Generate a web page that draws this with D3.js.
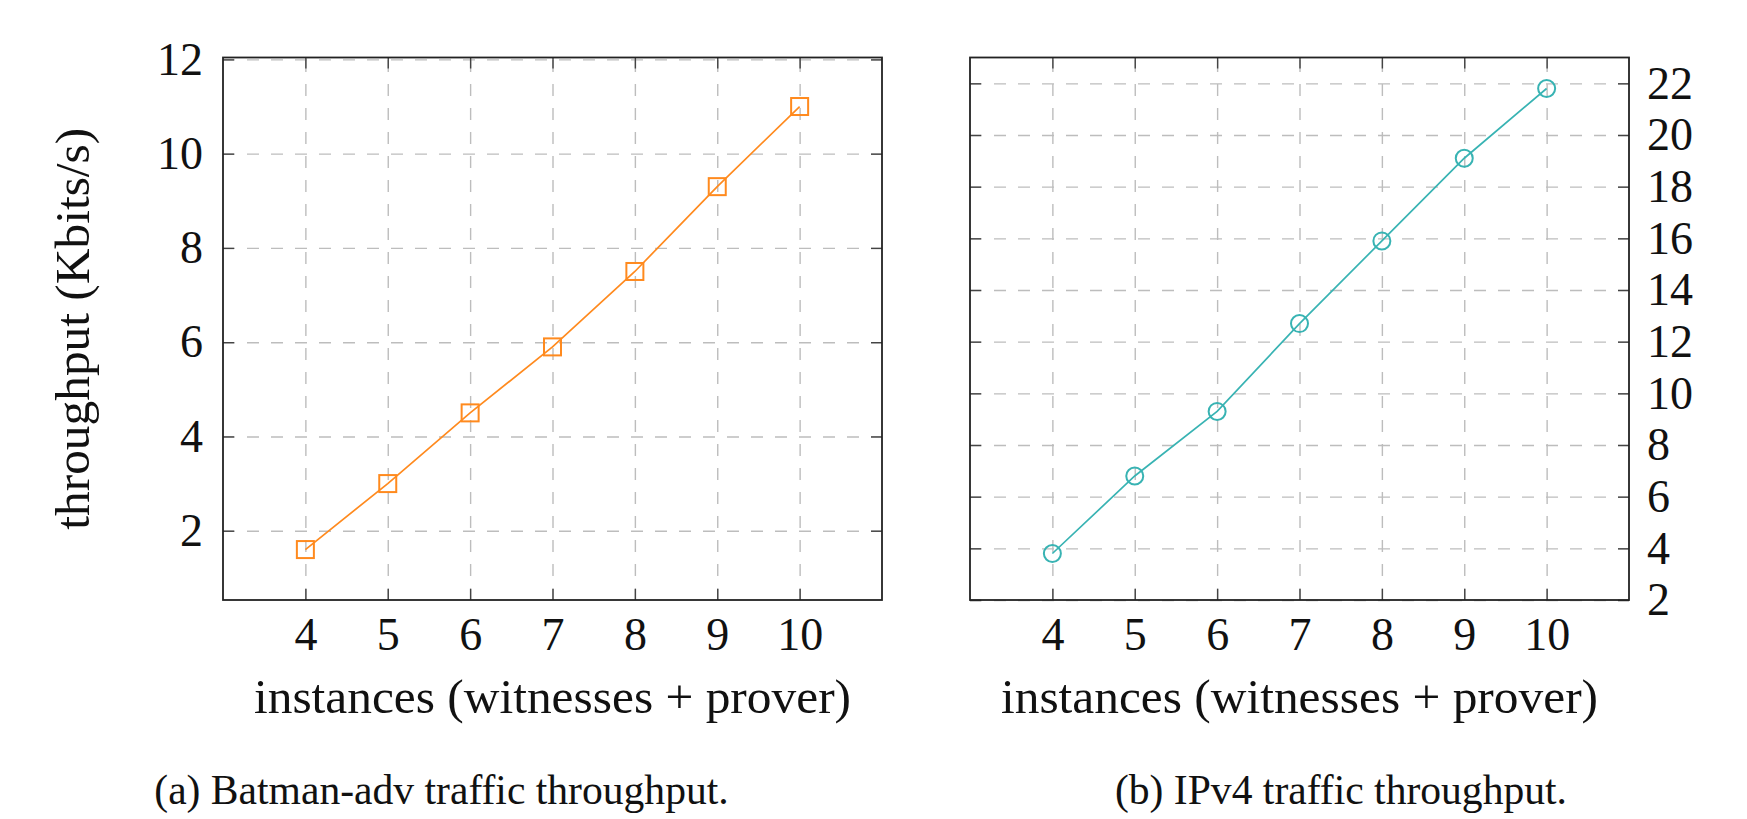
<!DOCTYPE html> <meta charset="utf-8" />
<style>
    body {
        margin: 0;
        background: #fff;
    }

    text {
        font-family: 'Liberation Serif', serif;
        fill: #111;
    }

    .grid line {
        stroke: #bdbdbd;
        stroke-width: 1.4;
        stroke-dasharray: 12, 12;
    }

    .grid path,
    .ticks path {
        display: none;
    }

    .ticks line {
        stroke: #444;
        stroke-width: 1.4;
    }

    .tick text {
        font-size: 46px;
    }

    .frame {
        fill: none;
        stroke: #222;
        stroke-width: 1.8;
    }

    .series {
        fill: none;
        stroke-width: 1.7;
    }

    .axis-label {
        font-size: 49.4px;
    }

    .caption {
        font-size: 41.6px;
    }
</style>

<svg width="1747" height="819"></svg>

<script src="https://d3js.org/d3.v7.min.js"></script>
<script>
    // x values shared by both panels
    const instances = [4, 5, 6, 7, 8, 9, 10];

    // (a) batman-adv throughput, Kbits/s
    const batmanThroughput = [1.6, 3.0, 4.5, 5.9, 7.5, 9.3, 11.0];
    const batmanTicks = [2, 4, 6, 8, 10, 12];

    // (b) IPv4 throughput, Kbits/s
    const ipv4Throughput = [3.8, 6.8, 9.3, 12.7, 15.9, 19.1, 21.8];
    const ipv4Ticks = [2, 4, 6, 8, 10, 12, 14, 16, 18, 20, 22];

    const xLabel = 'instances (witnesses + prover)';
    const yLabel = 'throughput (Kbits/s)';
    const captions = ['(a) Batman-adv traffic throughput.', '(b) IPv4 traffic throughput.'];

    const svg = d3.select('svg');

    const plotW = 659;
    const plotH = 542.5;
    const plotTop = 57.5;
    const tickLen = 11;

    function drawPanel(opts) {
        const { left, values, yDomain, yTicks, color, marker, labelSide } = opts;

        const x = d3.scaleLinear().domain([3, 11]).range([0, plotW]);
        const y = d3.scaleLinear().domain(yDomain).range([plotH, 0]);

        const g = svg.append('g').attr('transform', `translate(${left},${plotTop})`);

        // dashed grid
        g.append('g')
            .attr('class', 'grid')
            .attr('transform', `translate(0,${plotH})`)
            .call(d3.axisBottom(x).tickValues(instances).tickSize(-plotH).tickFormat(''));

        g.append('g')
            .attr('class', 'grid')
            .call(d3.axisLeft(y).tickValues(yTicks).tickSize(-plotW).tickFormat(''));

        // inner tick marks on all four sides
        g.append('g')
            .attr('class', 'ticks')
            .attr('transform', `translate(0,${plotH})`)
            .call(d3.axisBottom(x).tickValues(instances).tickSize(-tickLen).tickPadding(17));

        g.append('g')
            .attr('class', 'ticks')
            .call(d3.axisTop(x).tickValues(instances).tickSize(-tickLen).tickFormat(''));

        const leftAxis = d3.axisLeft(y).tickValues(yTicks).tickSize(-tickLen).tickPadding(20);
        const rightAxis = d3.axisRight(y).tickValues(yTicks).tickSize(-tickLen).tickPadding(18);
        if (labelSide === 'left') rightAxis.tickFormat('');
        else leftAxis.tickFormat('');

        g.append('g').attr('class', 'ticks').call(leftAxis);
        g.append('g')
            .attr('class', 'ticks')
            .attr('transform', `translate(${plotW},0)`)
            .call(rightAxis);

        g.selectAll('.tick text').attr('fill', '#111').style('font-family', "'Liberation Serif', serif");

        g.append('rect')
            .attr('class', 'frame')
            .attr('width', plotW)
            .attr('height', plotH);

        const pts = instances.map((d, i) => [x(d), y(values[i])]);

        g.append('path')
            .attr('class', 'series')
            .attr('stroke', color)
            .attr('d', d3.line()(pts));

        const marks = g.selectAll('.mark').data(pts).enter();
        if (marker === 'square') {
            marks.append('rect')
                .attr('x', d => d[0] - 8.5)
                .attr('y', d => d[1] - 8.5)
                .attr('width', 17)
                .attr('height', 17)
                .attr('fill', 'none')
                .attr('stroke', color)
                .attr('stroke-width', 2);
        } else {
            marks.append('circle')
                .attr('cx', d => d[0])
                .attr('cy', d => d[1])
                .attr('r', 8.5)
                .attr('fill', 'none')
                .attr('stroke', color)
                .attr('stroke-width', 2);
        }

        g.append('text')
            .attr('class', 'axis-label')
            .attr('x', plotW / 2)
            .attr('y', 713 - plotTop)
            .attr('text-anchor', 'middle')
            .text(xLabel);

        return g;
    }

    drawPanel({
        left: 223,
        values: batmanThroughput,
        yDomain: [0.53, 12.04],
        yTicks: batmanTicks,
        color: '#ff8a1e',
        marker: 'square',
        labelSide: 'left',
    });

    drawPanel({
        left: 970,
        values: ipv4Throughput,
        yDomain: [2, 23],
        yTicks: ipv4Ticks,
        color: '#38b3b3',
        marker: 'circle',
        labelSide: 'right',
    });

    svg.append('text')
        .attr('class', 'axis-label')
        .attr('transform', `translate(89,${plotTop + plotH / 2}) rotate(-90)`)
        .attr('text-anchor', 'middle')
        .text(yLabel);

    svg.append('text')
        .attr('class', 'caption')
        .attr('x', 441.5)
        .attr('y', 804)
        .attr('text-anchor', 'middle')
        .text(captions[0]);

    svg.append('text')
        .attr('class', 'caption')
        .attr('x', 1341)
        .attr('y', 804)
        .attr('text-anchor', 'middle')
        .text(captions[1]);
</script>
